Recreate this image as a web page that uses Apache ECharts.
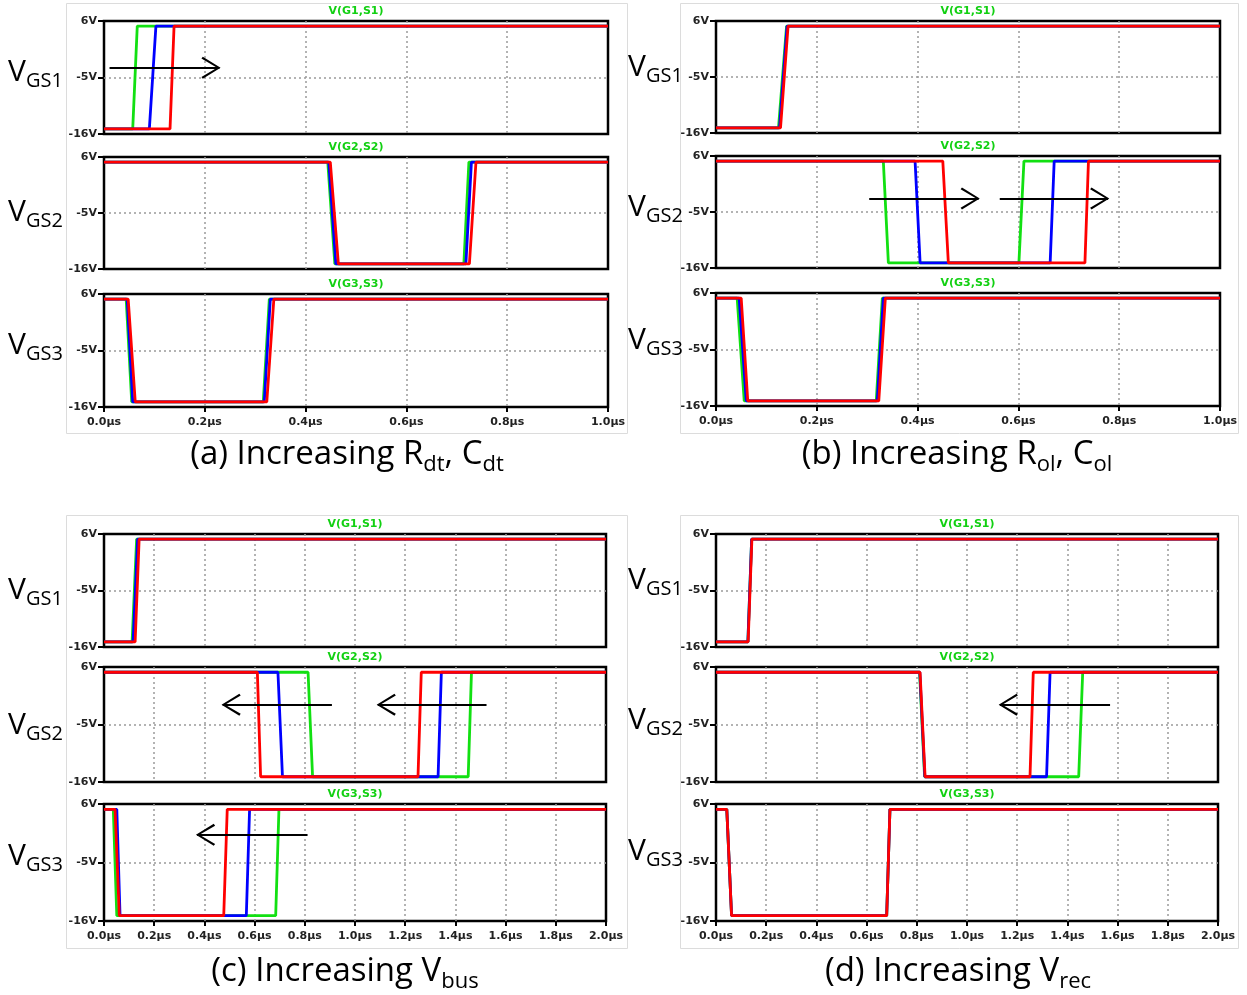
<!DOCTYPE html>
<html><head><meta charset="utf-8">
<script src="https://cdn.jsdelivr.net/npm/echarts@6/dist/echarts.min.js"></script>
<style>html,body{margin:0;padding:0;background:#fff}#c{width:1247px;height:995px}</style>
</head><body><div id="c"></div><script>
// ---------- DATA (time in μs, voltage in V) ----------
const yTickValues = [-16, -5, 6];
const xMaxAB = 1.0, xMaxCD = 2.0;
const plotTitles = ['V(G1,S1)', 'V(G2,S2)', 'V(G3,S3)'];
const rowLabels = ['GS1', 'GS2', 'GS3'];

// (a) Increasing Rdt, Cdt
const aG1Green = [[0,-15],[0.057,-15],[0.066,5],[1,5]];
const aG1Blue  = [[0,-15],[0.090,-15],[0.103,5],[1,5]];
const aG1Red   = [[0,-15],[0.131,-15],[0.139,5],[1,5]];
const aG2Green = [[0,5],[0.444,5],[0.458,-15],[0.714,-15],[0.724,5],[1,5]];
const aG2Blue  = [[0,5],[0.446,5],[0.460,-15],[0.718,-15],[0.729,5],[1,5]];
const aG2Red   = [[0,5],[0.449,5],[0.465,-15],[0.725,-15],[0.738,5],[1,5]];
const aG3Green = [[0,5],[0.044,5],[0.055,-15],[0.316,-15],[0.328,5],[1,5]];
const aG3Blue  = [[0,5],[0.046,5],[0.057,-15],[0.318,-15],[0.330,5],[1,5]];
const aG3Red   = [[0,5],[0.048,5],[0.062,-15],[0.323,-15],[0.337,5],[1,5]];

// (b) Increasing Rol, Col
const bG1Green = [[0,-15],[0.124,-15],[0.140,5],[1,5]];
const bG1Blue  = [[0,-15],[0.126,-15],[0.141,5],[1,5]];
const bG1Red   = [[0,-15],[0.128,-15],[0.143,5],[1,5]];
const bG2Green = [[0,5],[0.332,5],[0.342,-15],[0.601,-15],[0.611,5],[1,5]];
const bG2Blue  = [[0,5],[0.395,5],[0.405,-15],[0.663,-15],[0.671,5],[1,5]];
const bG2Red   = [[0,5],[0.450,5],[0.461,-15],[0.732,-15],[0.739,5],[1,5]];
const bG3Green = [[0,5],[0.042,5],[0.056,-15],[0.318,-15],[0.330,5],[1,5]];
const bG3Blue  = [[0,5],[0.046,5],[0.060,-15],[0.320,-15],[0.332,5],[1,5]];
const bG3Red   = [[0,5],[0.050,5],[0.063,-15],[0.323,-15],[0.336,5],[1,5]];

// (c) Increasing Vbus
const cG1Green = [[0,-15],[0.112,-15],[0.130,5],[2,5]];
const cG1Blue  = [[0,-15],[0.116,-15],[0.134,5],[2,5]];
const cG1Red   = [[0,-15],[0.124,-15],[0.140,5],[2,5]];
const cG2Green = [[0,5],[0.813,5],[0.831,-15],[1.451,-15],[1.464,5],[2,5]];
const cG2Blue  = [[0,5],[0.693,5],[0.711,-15],[1.331,-15],[1.344,5],[2,5]];
const cG2Red   = [[0,5],[0.611,5],[0.624,-15],[1.251,-15],[1.264,5],[2,5]];
const cG3Green = [[0,5],[0.037,5],[0.051,-15],[0.684,-15],[0.697,5],[2,5]];
const cG3Blue  = [[0,5],[0.051,5],[0.064,-15],[0.567,-15],[0.580,5],[2,5]];
const cG3Red   = [[0,5],[0.044,5],[0.061,-15],[0.477,-15],[0.491,5],[2,5]];

// (d) Increasing Vrec
const dG1Green = [[0,-15],[0.127,-15],[0.142,5],[2,5]];
const dG1Blue  = [[0,-15],[0.127,-15],[0.142,5],[2,5]];
const dG1Red   = [[0,-15],[0.128,-15],[0.143,5],[2,5]];
const dG2Green = [[0,5],[0.811,5],[0.831,-15],[1.445,-15],[1.461,5],[2,5]];
const dG2Blue  = [[0,5],[0.812,5],[0.832,-15],[1.317,-15],[1.331,5],[2,5]];
const dG2Red   = [[0,5],[0.813,5],[0.833,-15],[1.251,-15],[1.264,5],[2,5]];
const dG3Green = [[0,5],[0.043,5],[0.062,-15],[0.680,-15],[0.693,5],[2,5]];
const dG3Blue  = [[0,5],[0.043,5],[0.062,-15],[0.680,-15],[0.693,5],[2,5]];
const dG3Red   = [[0,5],[0.043,5],[0.062,-15],[0.680,-15],[0.693,5],[2,5]];

// annotation arrows: [fromTime, toTime, voltage]
const arrowsA1 = [[0.011, 0.229, -3.1]];
const arrowsB2 = [[0.304, 0.521, -2.35], [0.563, 0.778, -2.35]];
const arrowsC2 = [[0.908, 0.473, -1.2], [1.524, 1.091, -1.2]];
const arrowsC3 = [[0.811, 0.371, 0.2]];
const arrowsD2 = [[1.570, 1.131, -1.2]];

// ---------- LAYOUT ----------
const COLORS = ['#12e012', '#0000ff', '#ff0000'];
const CHEVRON = 'path://M-8,0 M28,0 M10,17 L21,35 L19.2,36.4 L10,20.6 L0.8,36.4 L-1,35 Z';
const panels = [
  {left:104, width:504, tops:[21,157,294], heights:[113,112,113], xMax:xMaxAB,
   traces:[[aG1Green,aG1Blue,aG1Red],[aG2Green,aG2Blue,aG2Red],[aG3Green,aG3Blue,aG3Red]],
   arrows:[arrowsA1,[],[]], labelX:8, labelYs:[72,212,345],
   caption:'{m|(a) Increasing R}{s|dt}{m|, C}{s|dt}', capX:347, capY:455, frame:[66,3,561,430]},
  {left:716, width:504, tops:[21,156,293], heights:[112,112,113], xMax:xMaxAB,
   traces:[[bG1Green,bG1Blue,bG1Red],[bG2Green,bG2Blue,bG2Red],[bG3Green,bG3Blue,bG3Red]],
   arrows:[[],arrowsB2,[]], labelX:628, labelYs:[67,207,340],
   caption:'{m|(b) Increasing R}{s|ol}{m|, C}{s|ol}', capX:957, capY:455, frame:[680,3,558,430]},
  {left:104, width:502, tops:[534,667,804], heights:[113,115,117], xMax:xMaxCD,
   traces:[[cG1Green,cG1Blue,cG1Red],[cG2Green,cG2Blue,cG2Red],[cG3Green,cG3Blue,cG3Red]],
   arrows:[[],arrowsC2,arrowsC3], labelX:8, labelYs:[590,725,856],
   caption:'{m|(c) Increasing V}{s|bus}', capX:345, capY:972, frame:[66,515,561,433]},
  {left:716, width:502, tops:[534,667,804], heights:[113,115,117], xMax:xMaxCD,
   traces:[[dG1Green,dG1Blue,dG1Red],[dG2Green,dG2Blue,dG2Red],[dG3Green,dG3Blue,dG3Red]],
   arrows:[[],arrowsD2,[]], labelX:628, labelYs:[580,720,851],
   caption:'{m|(d) Increasing V}{s|rec}', capX:958, capY:972, frame:[680,515,558,433]}
];

const grid = [], xAxis = [], yAxis = [], series = [], graphic = [];
const labelFont = 'DejaVu Sans';
const richCaption = {
  m: {fontFamily:'Open Sans', fontSize:33, color:'#262626', lineHeight:41},
  s: {fontFamily:'Open Sans', fontSize:22, color:'#262626', verticalAlign:'bottom'}
};
const richLabel = {
  m: {fontFamily:'Open Sans', fontSize:30, color:'#262626', lineHeight:38},
  s: {fontFamily:'Open Sans', fontSize:20, color:'#262626', verticalAlign:'bottom'}
};
const gridLine = {show:true, showMinLine:false, showMaxLine:false,
  lineStyle:{color:'#9a9a9a', type:[2,3], width:1.5}};
let gi = 0;
panels.forEach(p => {
  graphic.push({type:'rect', shape:{x:p.frame[0]+0.5, y:p.frame[1]+0.5, width:p.frame[2], height:p.frame[3]},
    style:{fill:'none', stroke:'#dcdcdc', lineWidth:1}, silent:true, z:-10});
  graphic.push({type:'text', x:p.capX, y:p.capY,
    style:{text:p.caption, align:'center', verticalAlign:'middle', rich:richCaption}, silent:true});
  for (let r = 0; r < 3; r++) {
    const bottom = r === 2;
    grid.push({left:p.left, width:p.width, top:p.tops[r], height:p.heights[r],
      show:true, borderColor:'#000', borderWidth:2.5, backgroundColor:'transparent'});
    xAxis.push({gridIndex:gi, type:'value', min:0, max:p.xMax, interval:0.2,
      axisLine:{show:false, onZero:false},
      axisTick:{show:bottom, length:5, lineStyle:{color:'#000', width:2}},
      axisLabel:{show:bottom, formatter:v => v.toFixed(1) + 'μs', fontSize:11, fontWeight:'bold',
        color:'#222', margin:10, fontFamily:labelFont},
      splitLine:gridLine});
    yAxis.push({gridIndex:gi, type:'value', min:-16, max:6, interval:11,
      axisLine:{show:false, onZero:false},
      axisTick:{show:true, customValues:yTickValues, length:6, lineStyle:{color:'#000', width:2}},
      axisLabel:{customValues:yTickValues, formatter:v => v + 'V', fontSize:11, fontWeight:'bold',
        color:'#222', margin:7, fontFamily:labelFont},
      splitLine:gridLine});
    p.traces[r].forEach((d, k) => {
      const s = {type:'line', xAxisIndex:gi, yAxisIndex:gi, data:d, symbol:'none', showSymbol:false,
        lineStyle:{color:COLORS[k], width:2.8}, itemStyle:{color:COLORS[k]}, silent:true, z:3};
      if (k === 2 && p.arrows[r].length) {
        s.markLine = {silent:true, symbol:['none', CHEVRON], symbolSize:36, label:{show:false},
          emphasis:{disabled:true}, animation:false,
          lineStyle:{color:'#000', width:2, type:'solid'}, itemStyle:{color:'#000'},
          data:p.arrows[r].map(a => [{coord:[a[0], a[2]]}, {coord:[a[1], a[2]]}])};
      }
      series.push(s);
    });
    graphic.push({type:'text', x:p.left + p.width/2, y:p.tops[r] - 10,
      style:{text:plotTitles[r], fill:'#12d012', font:'bold 11px "DejaVu Sans"', align:'center', verticalAlign:'middle'}, silent:true});
    graphic.push({type:'text', x:p.labelX, y:p.labelYs[r],
      style:{text:'{m|V}{s|' + rowLabels[r] + '}', align:'left', verticalAlign:'middle', rich:richLabel}, silent:true});
    gi++;
  }
});

const chart = echarts.init(document.getElementById('c'), null, {renderer:'canvas'});
chart.setOption({animation:false, backgroundColor:'#fff', grid, xAxis, yAxis, series, graphic});
</script></body></html>
